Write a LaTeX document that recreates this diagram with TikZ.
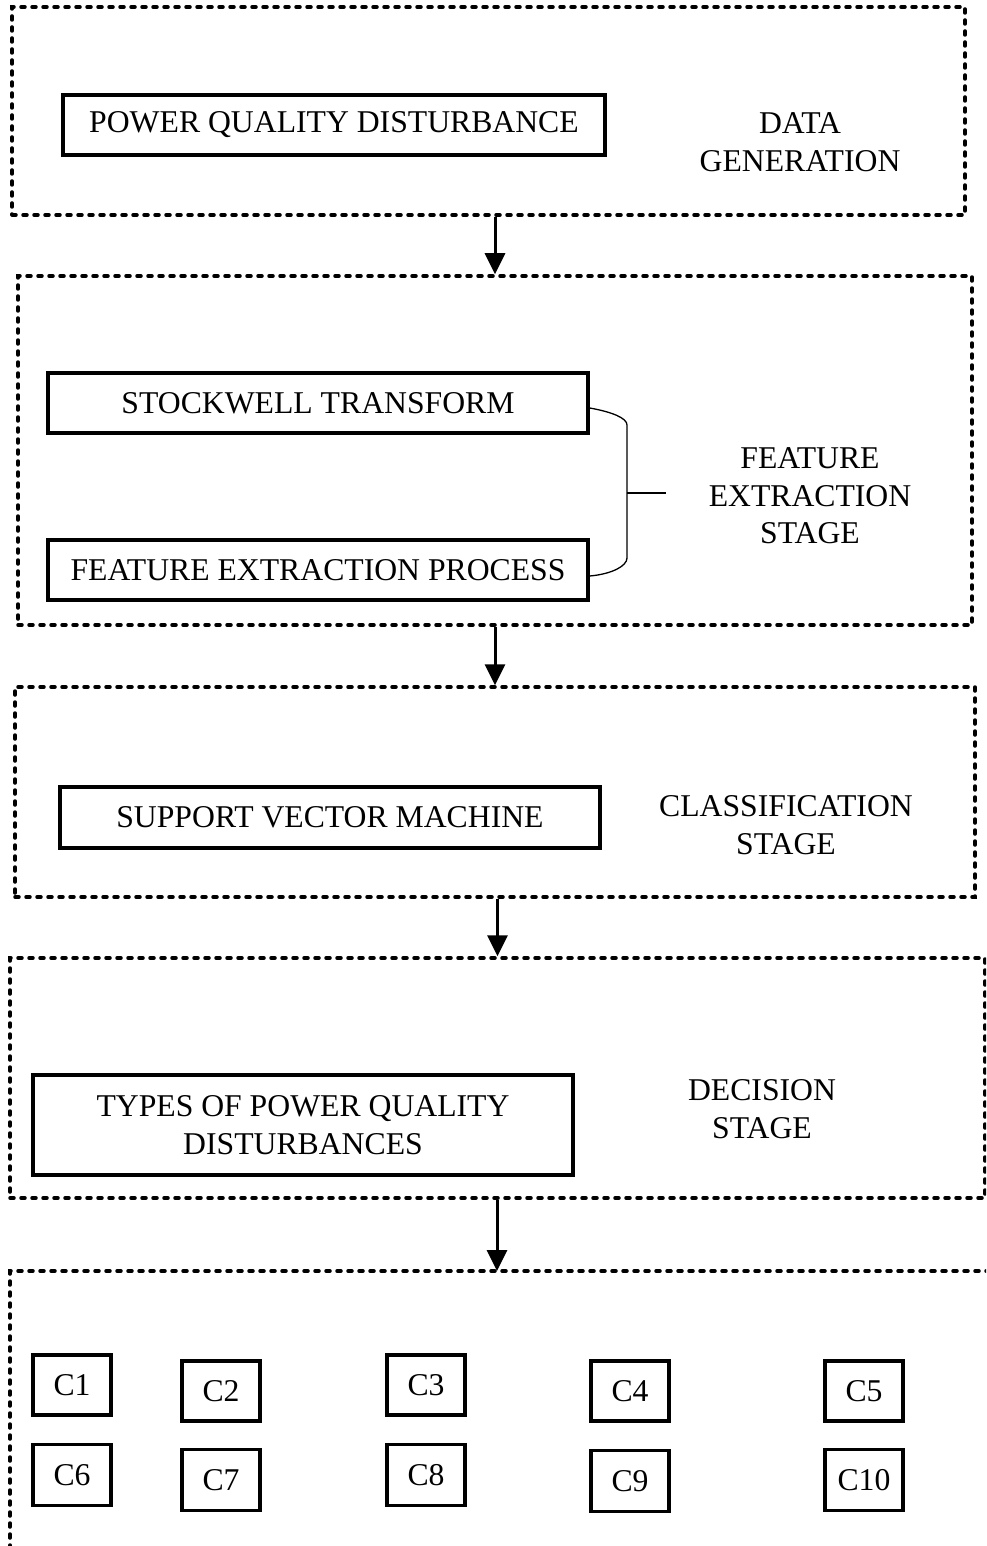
\documentclass[tikz,border=0pt]{standalone}
\usepackage{fontspec}
\setmainfont{Liberation Serif}
\usetikzlibrary{arrows.meta}

\begin{document}
\begin{tikzpicture}[x=1pt,y=-1pt]
  % Define styles for the frames, boxes and arrows
  \tikzset{
    mystage/.style={draw, line width=3.5pt, line cap=round, dash pattern=on 4pt off 7pt, inner sep=0pt},
    mybox/.style={draw, line width=3.5pt, inner sep=0pt, align=center},
    mylabel/.style={align=center, inner sep=0pt},
    myarrow/.style={line width=3pt, -{Triangle[width=20pt,length=21pt]}},
    mybrace/.style={line width=1.3pt}
  }
  \fontsize{31.7}{37.5}\selectfont
  \useasboundingbox (0,0) rectangle (986,1546);
  \clip (0,0) rectangle (986,1546);

  % Dashed stage frames
  \node[mystage, minimum width=953pt, minimum height=208pt] (gen) at (488.5,111) {};
  \node[mystage, minimum width=954pt, minimum height=349pt] (feat) at (495,450.5) {};
  \node[mystage, minimum width=960pt, minimum height=210pt] (class) at (495,792) {};
  \node[mystage, minimum width=975pt, minimum height=240pt] (dec) at (497.5,1078) {};
  \draw[mystage] (10,1560) |- (1000,1271);
  \coordinate (out) at (497,1271);

  % Boxes inside the stages
  \node[mybox, minimum width=542pt, minimum height=60pt] (pqd) at (334,125) {POWER QUALITY DISTURBANCE};
  \node[mybox, minimum width=540pt, minimum height=60pt] (st) at (318,403) {STOCKWELL TRANSFORM};
  \node[mybox, minimum width=540pt, minimum height=60pt] (fep) at (318,570) {FEATURE EXTRACTION PROCESS};
  \node[mybox, minimum width=540pt, minimum height=61pt] (svm) at (330,817.5) {SUPPORT VECTOR MACHINE};
  \node[mybox, minimum width=540pt, minimum height=100pt] (types) at (303,1125) {TYPES OF POWER QUALITY\\DISTURBANCES};

  % Stage names
  \node[mylabel] (lgen) at (800,142) {DATA\\GENERATION};
  \node[mylabel] (lfeat) at (810,496) {FEATURE\\EXTRACTION\\STAGE};
  \node[mylabel] (lclass) at (786,825) {CLASSIFICATION\\STAGE};
  \node[mylabel] (ldec) at (762,1109) {DECISION\\STAGE};

  % Brace joining the two feature boxes
  \coordinate (bt) at (627,425);
  \coordinate (bb) at (627,558);
  \coordinate (bm) at (627,493);
  \coordinate (bk) at (666,493);
  \draw[mybrace] ([yshift=-5pt]st.east) .. controls (612,412) and (627,418) .. (bt) -- (bb)
    .. controls (627,566) and (612,574) .. ([yshift=-6pt]fep.east);
  \draw[mybrace] (bm) -- (bk);

  % Classes of disturbances
  \node[mybox, minimum width=78pt, minimum height=60pt] (c1) at (72,1385) {C1};
  \node[mybox, minimum width=78pt, minimum height=60pt] (c2) at (221,1391) {C2};
  \node[mybox, minimum width=78pt, minimum height=60pt] (c3) at (426,1385) {C3};
  \node[mybox, minimum width=78pt, minimum height=60pt] (c4) at (630,1391) {C4};
  \node[mybox, minimum width=78pt, minimum height=60pt] (c5) at (864,1391) {C5};
  \node[mybox, minimum width=78pt, minimum height=61pt] (c6) at (72,1475) {C6};
  \node[mybox, minimum width=78pt, minimum height=61pt] (c7) at (221,1480) {C7};
  \node[mybox, minimum width=78pt, minimum height=61pt] (c8) at (426,1475) {C8};
  \node[mybox, minimum width=78pt, minimum height=61pt] (c9) at (630,1481) {C9};
  \node[mybox, minimum width=78pt, minimum height=61pt] (c10) at (864,1480) {C10};

  % Arrows between the stages
  \draw[myarrow] (feat.north |- gen.south) -- (feat.north);
  \draw[myarrow] (class.north |- feat.south) -- (class.north);
  \draw[myarrow] (dec.north |- class.south) -- (dec.north);
  \draw[myarrow] (out |- dec.south) -- (out);

\end{tikzpicture}
\end{document}
